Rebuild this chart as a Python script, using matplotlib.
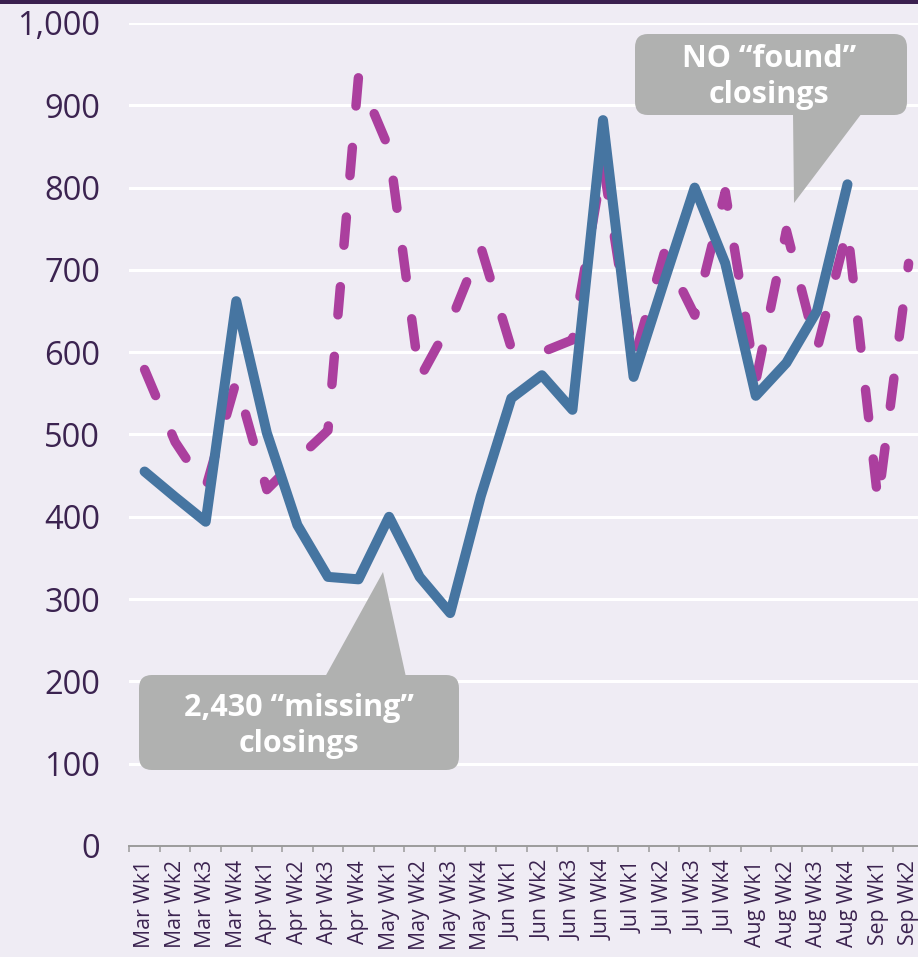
import numpy as np
import matplotlib.pyplot as plt
import matplotlib.ticker as mticker
from matplotlib.patches import FancyBboxPatch, Polygon, Rectangle

# weekly closings
weeks = ['Mar Wk1', 'Mar Wk2', 'Mar Wk3', 'Mar Wk4',
         'Apr Wk1', 'Apr Wk2', 'Apr Wk3', 'Apr Wk4',
         'May Wk1', 'May Wk2', 'May Wk3', 'May Wk4',
         'Jun Wk1', 'Jun Wk2', 'Jun Wk3', 'Jun Wk4',
         'Jul Wk1', 'Jul Wk2', 'Jul Wk3', 'Jul Wk4',
         'Aug Wk1', 'Aug Wk2', 'Aug Wk3', 'Aug Wk4',
         'Sep Wk1', 'Sep Wk2']
actual = [455, 424, 394, 662, 502, 390, 327, 324, 400, 327, 283, 425,
          544, 572, 530, 882, 570, 686, 800, 708, 547, 587, 650, 804,
          np.nan, np.nan]
expected = [579, 491, 435, 565, 433, 470, 505, 935, 847, 568, 636, 728,
            605, 600, 615, 830, 590, 720, 645, 795, 565, 748, 603, 750,
            418, 708]
yticks = [0, 100, 200, 300, 400, 500, 600, 700, 800, 900, 1000]

note_found = 'NO \u201cfound\u201d\nclosings'
note_missing = '2,430 \u201cmissing\u201d\nclosings'

W, H = 918, 957
bg = '#efecf4'
txt = '#3b2350'
blue = '#4675a1'
magenta = '#ab3f9e'
grey_box = '#b0b1b0'

plt.rcParams['font.family'] = ['Open Sans', 'DejaVu Sans']

fig = plt.figure(figsize=(W / 100, H / 100), dpi=100, facecolor=bg)

def fx(x):
    return x / W

def fy(y):
    return 1 - y / H

# axes: x from 129 px (runs past the right edge), y from 846 px (0) to 23 px (1000)
ax = fig.add_axes([fx(129.3), fy(846), 794.6 / W, 823 / H])
ax.set_facecolor(bg)

x = np.arange(len(weeks))
ax.plot(x, expected, color=magenta, lw=6.8, linestyle=(0, (3.0, 4.4)),
        dash_capstyle='round', dash_joinstyle='round', zorder=3)
ax.plot(x, actual, color=blue, lw=7.2, solid_capstyle='round',
        solid_joinstyle='round', zorder=4)

ax.set_xlim(-0.5, len(weeks) - 0.5)
ax.set_ylim(0, 1000)
ax.set_yticks(yticks)
ax.yaxis.set_major_formatter(mticker.FuncFormatter(lambda v, p: f'{int(v):,}'))
ax.grid(axis='y', color='white', lw=2.2)
ax.set_axisbelow(True)

ax.set_xticks(x)
ax.set_xticklabels(weeks, rotation=90, fontsize=15.3, color=txt)
ax.set_xticks(np.arange(len(weeks)) - 0.5, minor=True)
ax.tick_params(axis='x', which='major', length=0, pad=10)
ax.tick_params(axis='x', which='minor', length=4.5, width=1.1, color='#9b9b9b')
ax.tick_params(axis='y', length=0, pad=21, labelsize=23.5, labelcolor=txt)

for s in ['top', 'right', 'left']:
    ax.spines[s].set_visible(False)
ax.spines['bottom'].set_color('#9b9b9b')
ax.spines['bottom'].set_linewidth(1.4)

# thin dark band along the top
fig.patches.append(Rectangle((0, fy(3.5)), 1, 3.5 / H, transform=fig.transFigure,
                             facecolor='#3a1f4f', edgecolor='none'))

def callout(box, tri, text, cx, cy):
    x0, y0, x1, y1 = box
    fig.patches.append(FancyBboxPatch((fx(x0), fy(y1)), fx(x1) - fx(x0), fy(y0) - fy(y1),
                                      boxstyle='round,pad=0,rounding_size=0.014',
                                      transform=fig.transFigure, facecolor=grey_box,
                                      edgecolor='none', zorder=10))
    fig.patches.append(Polygon([(fx(a), fy(b)) for a, b in tri], closed=True,
                               transform=fig.transFigure, facecolor=grey_box,
                               edgecolor='none', zorder=10))
    fig.text(fx(cx), fy(cy), text, ha='center', va='center', color='white',
             fontsize=22, fontweight='bold', linespacing=1.25, zorder=11)

callout((635, 34, 907, 115), [(793, 113), (862, 113), (794, 203)], note_found, 769, 77)
callout((139, 675, 459, 770), [(325, 677), (406, 677), (383, 572)], note_missing, 299, 726)

fig.savefig('out.png', dpi=100, facecolor=bg)
